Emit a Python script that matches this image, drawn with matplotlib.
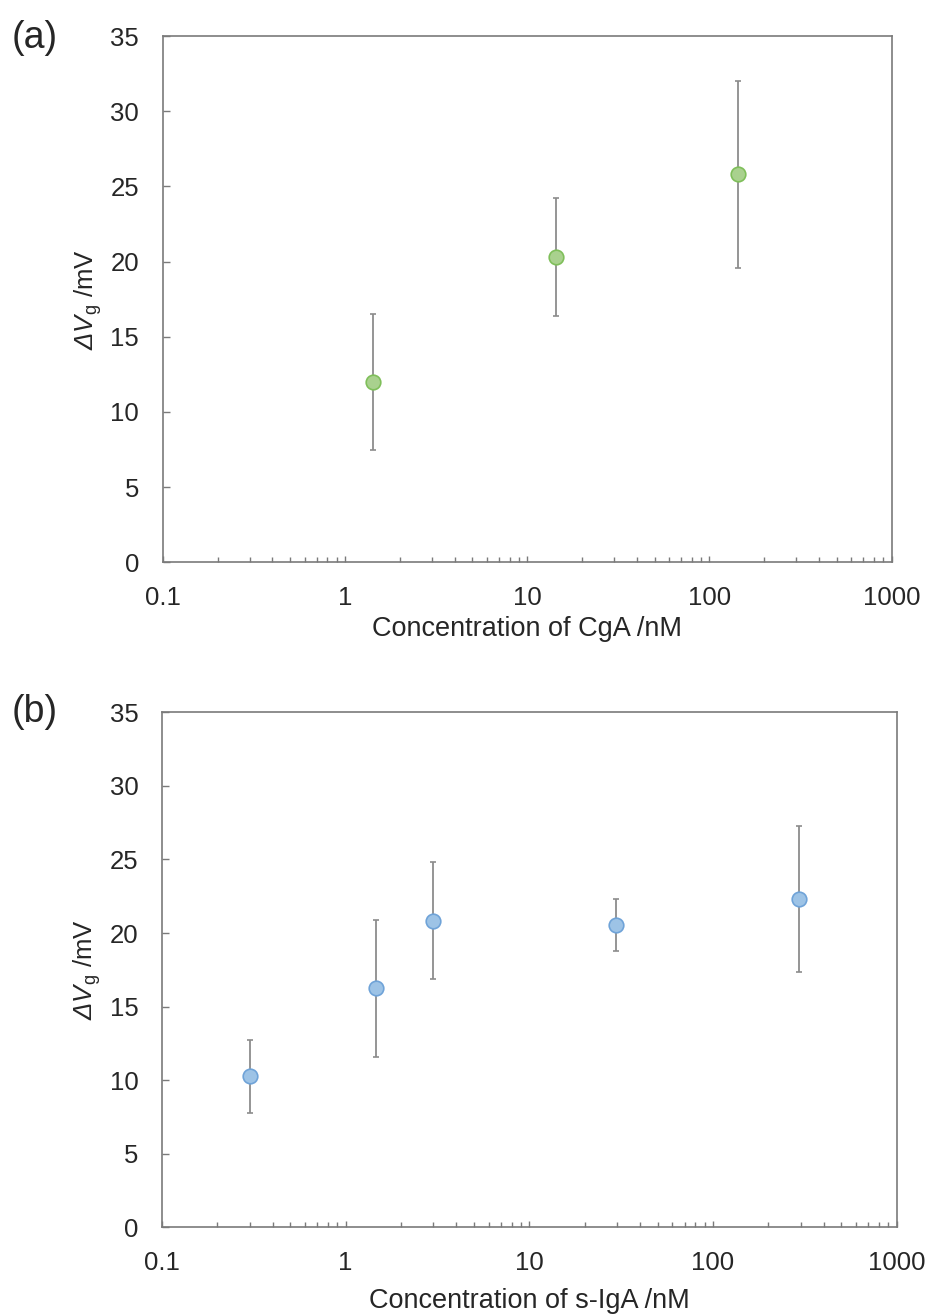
import matplotlib
matplotlib.use("Agg")
import matplotlib.pyplot as plt
from matplotlib.ticker import LogLocator, FixedLocator, NullFormatter

plt.rcParams['font.family'] = ['Liberation Sans', 'DejaVu Sans']
plt.rcParams['mathtext.fontset'] = 'custom'
plt.rcParams['mathtext.rm'] = 'Liberation Sans:italic'
plt.rcParams['mathtext.it'] = 'Liberation Sans:italic'
plt.rcParams['mathtext.sf'] = 'Liberation Sans'

# (a) CgA response
cga_conc = [1.43, 14.3, 143]
cga_dv = [12.0, 20.3, 25.8]
cga_err = [4.5, 3.9, 6.2]

# (b) s-IgA response
iga_conc = [0.3, 1.47, 3.0, 29.5, 294]
iga_dv = [10.25, 16.25, 20.85, 20.55, 22.3]
iga_err = [2.5, 4.65, 4.0, 1.75, 4.95]

x_ticks = [0.1, 1, 10, 100, 1000]
x_ticklabels = ["0.1", "1", "10", "100", "1000"]
y_ticks = [0, 5, 10, 15, 20, 25, 30, 35]

W, H = 928, 1314
fig = plt.figure(figsize=(W / 100, H / 100), dpi=100)

spine_col = '#7a7a7a'
text_col = '#262626'
err_col = '#8c8c8c'
fs = 18.5


def px_axes(left, top, right, bottom):
    return fig.add_axes([left / W, 1 - bottom / H, (right - left) / W, (bottom - top) / H])


def style(ax, xlabel, xlab_y):
    ax.set_xscale('log')
    ax.set_xlim(0.1, 1000)
    ax.set_ylim(0, 35)
    ax.xaxis.set_major_locator(FixedLocator(x_ticks))
    ax.set_xticklabels(x_ticklabels)
    ax.xaxis.set_minor_locator(LogLocator(base=10, subs=range(2, 10)))
    ax.xaxis.set_minor_formatter(NullFormatter())
    ax.set_yticks(y_ticks)
    for s in ax.spines.values():
        s.set_color(spine_col)
        s.set_linewidth(1.2)
    ax.tick_params(axis='x', which='major', direction='in', length=4.5, width=1.0,
                   color=spine_col, labelsize=fs, labelcolor=text_col, pad=17)
    ax.tick_params(axis='x', which='minor', direction='in', length=3.5, width=1.0,
                   color=spine_col)
    ax.tick_params(axis='y', which='major', direction='in', length=5, width=1.0,
                   color=spine_col, labelsize=fs, labelcolor=text_col, pad=17)
    ax.set_xlabel(xlabel, fontsize=19.5, color=text_col, va='center')
    ax.xaxis.set_label_coords(0.5, xlab_y)
    ax.set_ylabel(r'$\mathrm{\Delta V}_{\mathsf{g}}\mathsf{\ /mV}$', fontsize=fs,
                  color=text_col, va='center')
    ax.yaxis.set_label_coords(-0.102, 0.5)


ax1 = px_axes(162.7, 36, 891.7, 562.3)
ax1.errorbar(cga_conc, cga_dv, yerr=cga_err, fmt='o', ms=10.5, mfc='#a9d18e', mec='#7fbf5a',
             mew=1.2, ecolor=err_col, elinewidth=1.3, capsize=2.5, capthick=1.3, zorder=3)
style(ax1, 'Concentration of CgA /nM', -0.127)

ax2 = px_axes(162.0, 712.3, 896.7, 1227.3)
ax2.errorbar(iga_conc, iga_dv, yerr=iga_err, fmt='o', ms=10.5, mfc='#9dc3e6', mec='#6fa3d8',
             mew=1.2, ecolor=err_col, elinewidth=1.3, capsize=2.5, capthick=1.3, zorder=3)
style(ax2, 'Concentration of s-IgA /nM', -0.143)

fig.text(12 / W, 1 - 38 / H, '(a)', fontsize=27, color=text_col, va='center', ha='left')
fig.text(12 / W, 1 - 712 / H, '(b)', fontsize=27, color=text_col, va='center', ha='left')

fig.savefig('out.png', dpi=100, facecolor='white')
